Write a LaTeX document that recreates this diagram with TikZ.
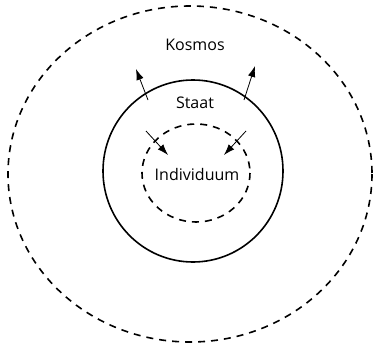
\documentclass[tikz,border=0pt]{standalone}
\usepackage{fontspec}
\setmainfont{Open Sans}
\usetikzlibrary{arrows.meta}
\begin{document}
\begin{tikzpicture}[x=1pt,y=-1pt,
  ring/.style={line width=1.6pt},
  dashring/.style={ring, dash pattern=on 7pt off 6pt},
  arr/.style={line width=0.8pt,-{Latex[length=11pt,width=7.5pt]}},
  lbl/.style={font=\fontsize{16}{18}\selectfont, inner sep=0pt}]
\useasboundingbox (0,0) rectangle (380,348);
\draw[dashring] (190,174) ellipse [x radius=182, y radius=168];
\draw[ring] (193,171) ellipse [x radius=90, y radius=91];
\draw[dashring] (196,173) ellipse [x radius=54, y radius=49];
\node[lbl] (kosmos) at (195,45) {Kosmos};
\node[lbl] (staat) at (195,103) {Staat};
\node[lbl] (ind) at (197,174) {Individuum};
\coordinate (a1s) at (148,100);
\coordinate (a1e) at (136,69);
\coordinate (a2s) at (244,100);
\coordinate (a2e) at (255,66);
\coordinate (b1s) at (146,131);
\coordinate (b1e) at (168,155);
\coordinate (b2s) at (246,131);
\coordinate (b2e) at (224,155);
\draw[arr] (a1s) -- (a1e);
\draw[arr] (a2s) -- (a2e);
\draw[arr] (b1s) -- (b1e);
\draw[arr] (b2s) -- (b2e);
\end{tikzpicture}
\end{document}
